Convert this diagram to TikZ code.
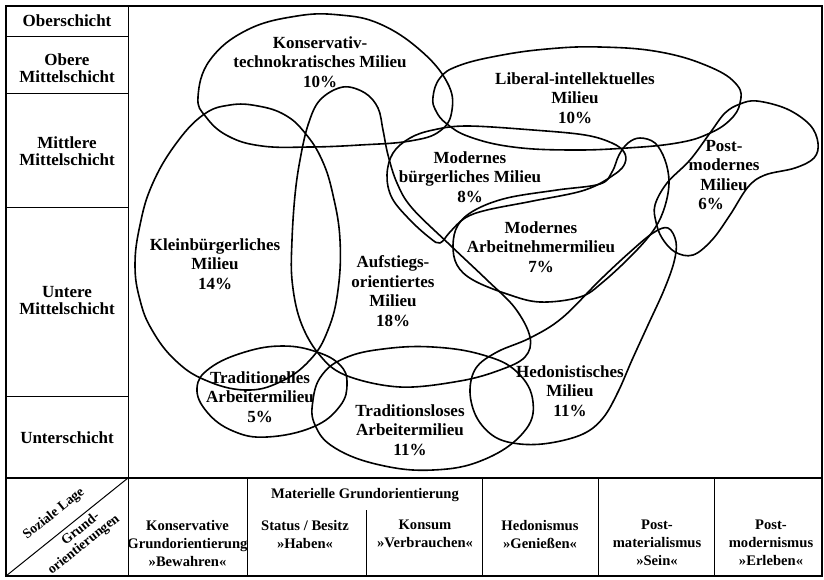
\documentclass[tikz,border=0pt]{standalone}
\usepackage{fontspec}
\setmainfont{Liberation Serif}
\begin{document}
\begin{tikzpicture}[x=1pt,y=-1pt,
  milieu/.style={align=center,font=\bfseries\fontsize{17}{19.5}\selectfont,inner sep=0pt},
  rowlabel/.style={align=center,font=\bfseries\fontsize{17}{17}\selectfont,inner sep=0pt},
  collabel/.style={align=center,font=\bfseries\fontsize{14.6}{18}\selectfont,inner sep=0pt},
  diaglabel/.style={font=\bfseries\fontsize{13.8}{16}\selectfont,inner sep=0pt,rotate=38.7},
  outline/.style={line width=1.6pt,line join=round},
  gridline/.style={line width=1pt},
  frameline/.style={line width=1.6pt}]
\useasboundingbox (0,0) rectangle (824,579);

% frame and table
\draw[frameline] (6,6) rectangle (822,576);
\draw[gridline] (128,6) -- (128,576);
\draw[gridline] (6,36) -- (128,36);
\draw[gridline] (6,93) -- (128,93);
\draw[gridline] (6,207) -- (128,207);
\draw[gridline] (6,396) -- (128,396);
\draw[frameline] (6,478) -- (822,478);
\draw[gridline] (247,478) -- (247,576);
\draw[gridline] (482,478) -- (482,576);
\draw[gridline] (598,478) -- (598,576);
\draw[gridline] (714,478) -- (714,576);
\draw[gridline] (366,510) -- (366,576);
\draw[gridline] (6,576) -- (128,478);

% row labels
\node[rowlabel] (ober) at (67,21) {Oberschicht};
\node[rowlabel] (oberemittel) at (67,68) {Obere\\Mittelschicht};
\node[rowlabel] (mittleremittel) at (67,151) {Mittlere\\Mittelschicht};
\node[rowlabel] (unteremittel) at (67,301) {Untere\\Mittelschicht};
\node[rowlabel] (unter) at (67,438) {Unterschicht};

% column labels
\node[diaglabel] (sozlage) at (54,514) {Soziale Lage};
\node[diaglabel] (grund) at (80,528) {Grund-};
\node[diaglabel] (orient) at (84,545) {orientierungen};
\node[collabel] (konserv) at (187.5,543) {Konservative\\Grundorientierung\\»Bewahren«};
\node[collabel] (materiell) at (365,495) {Materielle Grundorientierung};
\node[collabel] (status) at (305,534) {Status / Besitz\\»Haben«};
\node[collabel] (konsum) at (425,534) {Konsum\\»Verbrauchen«};
\node[collabel] (hedonismus) at (540,534) {Hedonismus\\»Genießen«};
\node[collabel] (postmat) at (657,543) {Post-\\materialismus\\»Sein«};
\node[collabel] (postmod) at (771,543) {Post-\\modernismus\\»Erleben«};

% milieu outlines
\draw[outline] plot[smooth cycle,tension=0.7] coordinates {(198,97) (210,60) (247,30) (297,16) (340,15) (380,24) (420,50) (447,82) (452,110) (440,131) (410,141) (360,145) (310,147) (262,146) (228,136) (206,117)};
\draw[outline] plot[smooth cycle,tension=0.7] coordinates {(433,97) (440,78) (458,66) (497,56) (547,49) (600,47) (660,52) (710,67) (737,85) (740,103) (730,120) (708,134) (677,143) (627,148) (570,150) (513,147) (470,137) (447,124) (436,111)};
\draw[outline] plot[smooth cycle,tension=0.7] coordinates {(135,265) (140,225) (152,185) (175,145) (203,115) (230,105) (258,106) (285,115) (305,133) (322,160) (333,195) (340,240) (338,290) (328,330) (310,360) (280,382) (245,390) (205,380) (175,360) (152,330) (140,300)};
\draw[outline] plot[smooth cycle,tension=0.6] coordinates {(343,87) (365,93) (378,108) (383,130) (388,155) (397,183) (412,208) (450,245) (487,280) (515,308) (530,337) (525,357) (500,370) (460,381) (400,387) (345,375) (318,353) (300,320) (292,280) (292,240) (295,195) (300,160) (308,125) (320,100)};
\draw[outline] plot[smooth cycle,tension=0.6] coordinates {(393,153) (410,138) (433,130) (467,126) (533,130) (585,135) (612,143) (624,152) (625,163) (615,174) (585,190) (533,201) (487,210) (465,218) (450,232) (440,243) (430,238) (410,220) (392,198) (387,175)};
\draw[outline] plot[smooth cycle,tension=0.6] coordinates {(453,245) (458,225) (475,210) (507,198) (557,190) (600,184) (612,172) (619,155) (628,143) (640,138) (655,143) (665,160) (669,182) (665,206) (655,228) (635,252) (603,282) (580,297) (540,302) (507,294) (473,280) (457,265)};
\draw[outline] plot[smooth cycle,tension=0.6] coordinates {(655,205) (667,183) (690,160) (710,133) (725,113) (740,104) (757,101) (787,109) (810,125) (818,143) (814,158) (795,168) (765,175) (748,187) (730,215) (712,240) (693,255) (675,252) (662,238) (656,222)};
\draw[outline] plot[smooth cycle,tension=0.6] coordinates {(653,233) (668,228) (676,242) (674,262) (664,290) (648,325) (632,360) (618,392) (603,418) (583,434) (550,443) (520,444) (495,437) (477,418) (470,392) (476,368) (497,352) (530,338) (562,318) (600,280) (630,252)};
\draw[outline] plot[smooth cycle,tension=0.7] coordinates {(197,388) (210,368) (245,352) (283,346) (317,352) (340,365) (347,383) (340,406) (313,427) (267,437) (233,431) (207,412)};
\draw[outline] plot[smooth cycle,tension=0.7] coordinates {(313,400) (322,375) (345,358) (383,349) (433,347) (483,355) (517,372) (533,402) (523,433) (483,460) (433,470) (380,465) (335,448) (315,425)};

% milieu labels
\node[milieu] (konservativ) at (320,62) {Konservativ-\\technokratisches Milieu\\10\%};
\node[milieu] (liberal) at (575,98) {Liberal-intellektuelles\\Milieu\\10\%};
\node[milieu] (kleinbuerger) at (215,264) {Kleinbürgerliches\\Milieu\\14\%};
\node[milieu] (aufstieg) at (393,291) {Aufstiegs-\\orientiertes\\Milieu\\18\%};
\node[milieu] (modbuerger) at (470,177) {Modernes\\bürgerliches Milieu\\8\%};
\node[milieu] (modarbeit) at (541,247) {Modernes\\Arbeitnehmermilieu\\7\%};
\node[milieu] (postmodern) at (724,175) {Post-\\modernes\\Milieu\\6\%\hspace*{26pt}};
\node[milieu] (tradarbeit) at (260,397) {Traditionelles\\Arbeitermilieu\\5\%};
\node[milieu] (tradlos) at (410,430) {Traditionsloses\\Arbeitermilieu\\11\%};
\node[milieu] (hedon) at (570,391) {Hedonistisches\\Milieu\\11\%};
\end{tikzpicture}
\end{document}
